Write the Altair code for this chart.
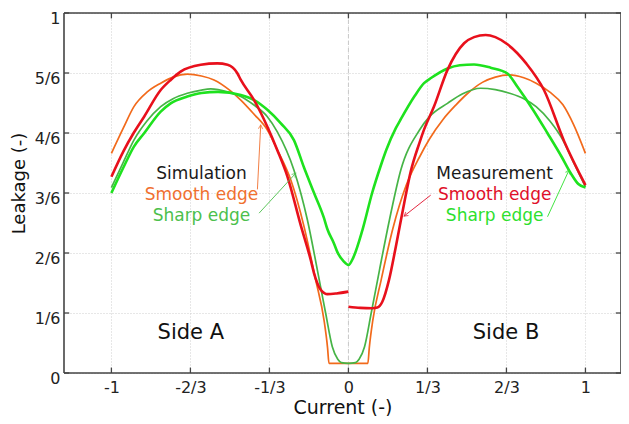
import math
import altair as alt
import pandas as pd

# ---------------- axis ticks ----------------
x_tick_values = [-1, -2/3, -1/3, 0, 1/3, 2/3, 1]
x_tick_labels = ["-1", "-2/3", "-1/3", "0", "1/3", "2/3", "1"]
y_tick_values = [0, 1/6, 2/6, 3/6, 4/6, 5/6, 1]
y_tick_labels = ["0", "1/6", "2/6", "3/6", "4/6", "5/6", "1"]
x_domain = [-1.2, 1.15]
y_domain = [0, 1]

# ---------------- simulation, smooth edge (orange) ----------------
sim_smooth_x = [-1.0, -0.95, -0.905, -0.85, -0.792, -0.74, -0.68, -0.62, -0.567, -0.5, -0.454, -0.4,
                -0.342, -0.3, -0.243, -0.187, -0.138, -0.103, -0.088, -0.082, 0.0, 0.082, 0.088, 0.103,
                0.138, 0.187, 0.243, 0.3, 0.342, 0.4, 0.454, 0.5, 0.567, 0.62, 0.68, 0.74, 0.792, 0.85,
                0.905, 0.95, 1.0]
sim_smooth_y = [0.61, 0.68, 0.74, 0.78, 0.805, 0.822, 0.83, 0.825, 0.814, 0.785, 0.758, 0.72,
                0.675, 0.62, 0.536, 0.406, 0.258, 0.147, 0.07, 0.027, 0.027, 0.027, 0.07, 0.147,
                0.258, 0.40, 0.52, 0.60, 0.65, 0.705, 0.745, 0.775, 0.808, 0.822, 0.828, 0.82, 0.805, 0.78,
                0.745, 0.69, 0.61]

# ---------------- simulation, sharp edge (green, thin) ----------------
sim_sharp_x = [-1.0, -0.95, -0.905, -0.85, -0.792, -0.74, -0.68, -0.62, -0.581, -0.51, -0.454, -0.4,
               -0.342, -0.3, -0.23, -0.173, -0.131, -0.096, -0.068, -0.045, -0.03, 0.0, 0.03, 0.045,
               0.068, 0.096, 0.131, 0.173, 0.221, 0.3, 0.342, 0.418, 0.48, 0.558, 0.62, 0.68, 0.74,
               0.792, 0.85, 0.905, 0.95, 1.0]
sim_sharp_y = [0.515, 0.585, 0.647, 0.70, 0.74, 0.762, 0.777, 0.786, 0.789, 0.781, 0.768, 0.745,
               0.712, 0.67, 0.564, 0.425, 0.286, 0.166, 0.073, 0.038, 0.029, 0.027, 0.029, 0.038,
               0.073, 0.166, 0.286, 0.425, 0.564, 0.675, 0.712, 0.749, 0.775, 0.791, 0.787, 0.777, 0.762,
               0.74, 0.70, 0.647, 0.585, 0.517]

# ---------------- measurement, smooth edge (red) ----------------
meas_smooth_left_x = [-1.0, -0.95, -0.905, -0.862, -0.792, -0.75, -0.708, -0.623, -0.553, -0.51, -0.468,
                      -0.454, -0.398, -0.342, -0.3, -0.257, -0.201, -0.159, -0.145, -0.117, -0.1, -0.089,
                      -0.05, 0.0]
meas_smooth_left_y = [0.545, 0.615, 0.668, 0.712, 0.786, 0.814, 0.837, 0.856, 0.86, 0.856, 0.832,
                      0.814, 0.758, 0.684, 0.619, 0.545, 0.41, 0.314, 0.277, 0.231, 0.221, 0.219,
                      0.221, 0.226]
meas_smooth_right_x = [0.0, 0.05, 0.1, 0.122, 0.143, 0.171, 0.2, 0.235, 0.263, 0.3, 0.319, 0.361, 0.418,
                       0.488, 0.53, 0.579, 0.62, 0.671, 0.75, 0.825, 0.91, 1.0]
meas_smooth_right_y = [0.184, 0.181, 0.18, 0.182, 0.198, 0.258, 0.351, 0.471, 0.56, 0.64, 0.676, 0.74, 0.842,
                       0.916, 0.933, 0.939, 0.933, 0.913, 0.86, 0.786, 0.644, 0.522]

# ---------------- measurement, sharp edge (bright green) ----------------
meas_sharp_x = [-1.0, -0.95, -0.905, -0.862, -0.792, -0.75, -0.68, -0.62, -0.55, -0.454, -0.398, -0.342,
                -0.286, -0.23, -0.187, -0.145, -0.103, -0.089, -0.061, -0.046, -0.02, 0.0, 0.02, 0.059,
                0.1, 0.136, 0.16, 0.2, 0.221, 0.28, 0.319, 0.35, 0.418, 0.47, 0.53, 0.6, 0.671, 0.713,
                0.78, 0.84, 0.9, 0.938, 0.97, 1.0]
meas_sharp_y = [0.50, 0.57, 0.629, 0.666, 0.726, 0.749, 0.768, 0.778, 0.781, 0.772, 0.758, 0.731,
                0.694, 0.647, 0.57, 0.50, 0.43, 0.40, 0.36, 0.335, 0.31, 0.30, 0.32, 0.397,
                0.50, 0.575, 0.62, 0.68, 0.705, 0.77, 0.805, 0.82, 0.846, 0.855, 0.857, 0.848, 0.832, 0.795,
                0.73, 0.666, 0.60, 0.555, 0.525, 0.515]

# ---------------- annotations ----------------
label_text = ["Simulation", "Smooth edge", "Sharp edge", "Measurement", "Smooth edge", "Sharp edge"]
label_x = [-0.62, -0.62, -0.62, 0.617, 0.617, 0.617]
label_y = [0.553, 0.494, 0.4375, 0.553, 0.494, 0.4375]
label_color = ["#1a1a1a", "#F07030", "#4CC04C", "#1a1a1a", "#E0102A", "#2EE02E"]

side_text = ["Side A", "Side B"]
side_x = [-0.665, 0.665]
side_y = [0.1125, 0.1125]

arrow_x = [-0.384, -0.377, 0.347, 0.84]
arrow_y = [0.51, 0.444, 0.494, 0.434]
arrow_x2 = [-0.37, -0.222, 0.235, 0.931]
arrow_y2 = [0.689, 0.555, 0.436, 0.564]
arrow_color = ["#F07030", "#4CC04C", "#E0102A", "#2EE02E"]

C_ORANGE = "#F26A1B"
C_SIMGREEN = "#46B446"
C_RED = "#E8101C"
C_GREEN = "#1EE21E"
FRAME = "#444444"

W, H = 557, 360

# ---------------- build tables ----------------
def table(xs, ys, series, seg):
    return pd.DataFrame({"x": xs, "y": ys, "series": series, "seg": seg})

sim_df = pd.concat([
    table(sim_smooth_x, sim_smooth_y, "sim_smooth", "a"),
    table(sim_sharp_x, sim_sharp_y, "sim_sharp", "b"),
])
meas_df = pd.concat([
    table(meas_sharp_x, meas_sharp_y, "meas_sharp", "c"),
    table(meas_smooth_left_x, meas_smooth_left_y, "meas_smooth", "d"),
    table(meas_smooth_right_x, meas_smooth_right_y, "meas_smooth", "e"),
])

color_scale = alt.Scale(domain=["sim_smooth", "sim_sharp", "meas_smooth", "meas_sharp"],
                        range=[C_ORANGE, C_SIMGREEN, C_RED, C_GREEN])

x_label_expr = "[" + ",".join("'%s'" % s for s in x_tick_labels) + "][round(datum.value*3)+3]"
y_label_expr = "[" + ",".join("'%s'" % s for s in y_tick_labels) + "][round(datum.value*6)]"

x_enc = alt.X("x:Q", scale=alt.Scale(domain=x_domain, nice=False, zero=False),
              axis=alt.Axis(values=x_tick_values, labelExpr=x_label_expr, title="Current (-)",
                            grid=True, gridDash=[1, 2], gridColor="#cfcfcf", domain=False, ticks=False,
                            tickSize=0, labelPadding=6, labelFontSize=16, labelFont="DejaVu Sans",
                            labelColor="#222", titleFont="DejaVu Sans", titleFontSize=19,
                            titleFontWeight="normal", titleColor="#111", titlePadding=3))
y_enc = alt.Y("y:Q", scale=alt.Scale(domain=y_domain, nice=False, zero=False),
              axis=alt.Axis(values=y_tick_values, labelExpr=y_label_expr, title="Leakage (-)",
                            grid=True, gridDash=[1, 2], gridColor="#cfcfcf", domain=False, ticks=False,
                            tickSize=0, labelPadding=4, labelFontSize=16, labelFont="DejaVu Sans",
                            labelColor="#222", labelOffset=5, titleFont="DejaVu Sans", titleFontSize=18,
                            titleFontWeight="normal", titleColor="#111", titlePadding=6, titleY=170))

base_grid = alt.Chart(pd.DataFrame({"x": [0.0], "y": [0.0]})).mark_point(opacity=0).encode(x=x_enc, y=y_enc)

zero_line = alt.Chart(pd.DataFrame({"x": [0.0]})).mark_rule(
    color="#c8c8c8", strokeDash=[4, 3], strokeWidth=1).encode(x="x:Q")

# frame as four rules
frame_df = pd.DataFrame({
    "x": [x_domain[0], x_domain[0], x_domain[0], x_domain[1]],
    "x2": [x_domain[1], x_domain[1], x_domain[0], x_domain[1]],
    "y": [y_domain[0], y_domain[1], y_domain[0], y_domain[0]],
    "y2": [y_domain[0], y_domain[1], y_domain[1], y_domain[1]],
})
frame = alt.Chart(frame_df).mark_rule(color=FRAME, strokeWidth=1.6).encode(
    x="x:Q", x2="x2:Q", y="y:Q", y2="y2:Q")

# inward ticks
xt = pd.DataFrame({"x": x_tick_values})
yt = pd.DataFrame({"y": y_tick_values})
ticks_bottom = alt.Chart(xt).mark_rule(color=FRAME, strokeWidth=1.3).encode(
    x="x:Q", y=alt.datum(0.0), y2=alt.datum(0.015))
ticks_top = alt.Chart(xt).mark_rule(color=FRAME, strokeWidth=1.3).encode(
    x="x:Q", y=alt.datum(1.0), y2=alt.datum(0.985))
ticks_left = alt.Chart(yt).mark_rule(color=FRAME, strokeWidth=1.3).encode(
    y="y:Q", x=alt.datum(x_domain[0]), x2=alt.datum(x_domain[0] + 0.022))
ticks_right = alt.Chart(yt).mark_rule(color=FRAME, strokeWidth=1.3).encode(
    y="y:Q", x=alt.datum(x_domain[1]), x2=alt.datum(x_domain[1] - 0.022))

sim_lines = alt.Chart(sim_df).mark_line(strokeWidth=1.7, interpolate="monotone").encode(
    x="x:Q", y="y:Q", color=alt.Color("series:N", scale=color_scale, legend=None), detail="seg:N")
meas_lines = alt.Chart(meas_df).mark_line(strokeWidth=2.6, interpolate="monotone").encode(
    x="x:Q", y="y:Q", color=alt.Color("series:N", scale=color_scale, legend=None), detail="seg:N")

# arrow shafts and heads (head orientation from the shaft direction in screen space)
px_per_x = W / (x_domain[1] - x_domain[0])
px_per_y = H / (y_domain[1] - y_domain[0])
head_angle = []
for x0, y0, x1, y1 in zip(arrow_x, arrow_y, arrow_x2, arrow_y2):
    dx = (x1 - x0) * px_per_x
    dy = -(y1 - y0) * px_per_y
    head_angle.append(math.degrees(math.atan2(dx, -dy)) % 360)

arrow_df = pd.DataFrame({"x": arrow_x, "y": arrow_y, "x2": arrow_x2, "y2": arrow_y2,
                         "c": arrow_color, "a": head_angle})
arrows = alt.Chart(arrow_df).mark_rule(strokeWidth=0.9).encode(
    x="x:Q", y="y:Q", x2="x2:Q", y2="y2:Q", color=alt.Color("c:N", scale=None))
heads = alt.Chart(arrow_df).mark_point(shape="M -0.8 1.4 L 0 0 L 0.8 1.4", filled=False,
                                       size=30, strokeWidth=1.0).encode(
    x="x2:Q", y="y2:Q", color=alt.Color("c:N", scale=None), angle=alt.Angle("a:Q", scale=None))

labels = alt.Chart(pd.DataFrame({"x": label_x, "y": label_y, "t": label_text, "c": label_color})).mark_text(
    font="DejaVu Sans", fontSize=17, align="center", baseline="middle").encode(
    x="x:Q", y="y:Q", text="t:N", color=alt.Color("c:N", scale=None))

sides = alt.Chart(pd.DataFrame({"x": side_x, "y": side_y, "t": side_text})).mark_text(
    font="DejaVu Sans", fontSize=21, align="center", baseline="middle", color="#111").encode(
    x="x:Q", y="y:Q", text="t:N")

chart = alt.layer(base_grid, zero_line, sim_lines, meas_lines, arrows, heads, labels, sides,
                  frame, ticks_bottom, ticks_top, ticks_left, ticks_right).properties(
    width=W, height=H,
    background="white",
    autosize=alt.AutoSizeParams(type="none"),
    padding={"left": 56, "top": 5, "right": 0, "bottom": 43},
).configure_view(stroke=None)

chart.save("out.html", embed_options={"renderer": "svg", "actions": False})
